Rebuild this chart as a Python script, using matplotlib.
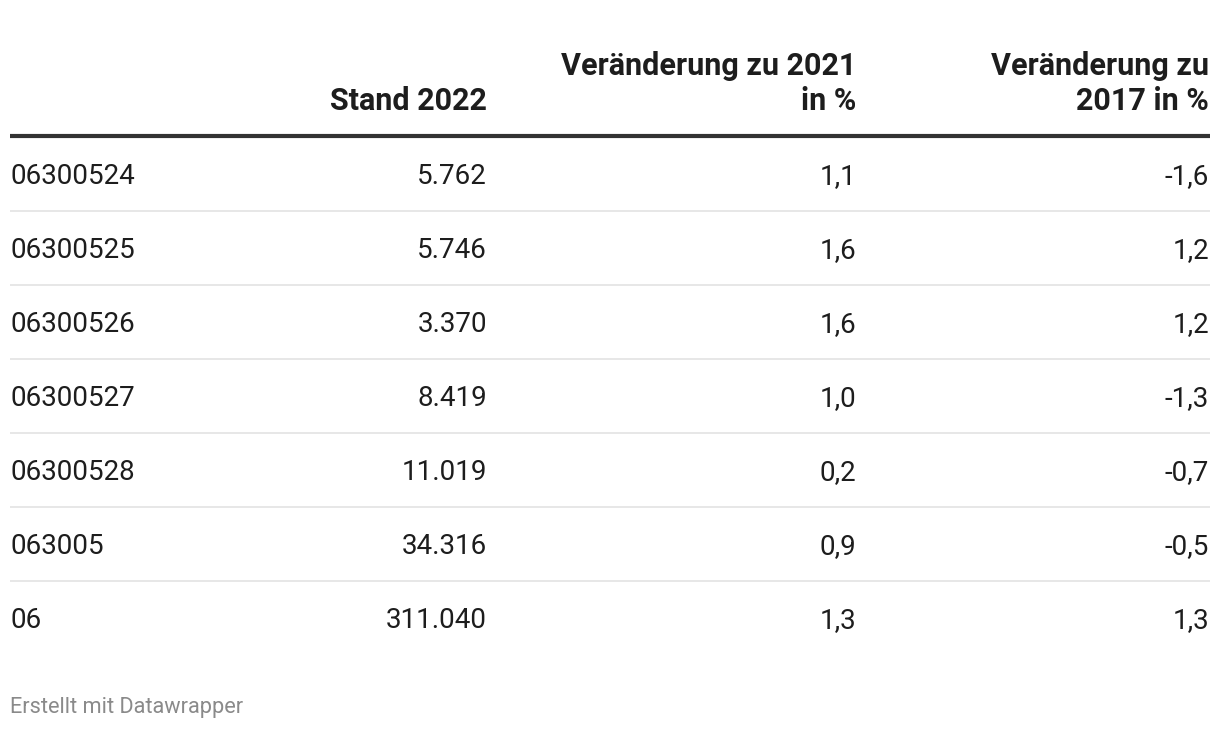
import matplotlib.pyplot as plt

plt.rcParams["font.family"] = ["Roboto", "DejaVu Sans"]

# -----------------------------
# Daten
# -----------------------------
regionen = ["06300524", "06300525", "06300526", "06300527", "06300528", "063005", "06"]
stand_2022 = ["5.762", "5.746", "3.370", "8.419", "11.019", "34.316", "311.040"]
veraenderung_2021 = ["1,1", "1,6", "1,6", "1,0", "0,2", "0,9", "1,3"]
veraenderung_2017 = ["-1,6", "1,2", "1,2", "-1,3", "-0,7", "-0,5", "1,3"]

kopfzeilen = ["", "Stand 2022", "Veränderung zu 2021\nin %", "Veränderung zu\n2017 in %"]
quelle = "Erstellt mit Datawrapper"

TEXT = "#1d1d1d"
W, H = 1220, 730


def main():
    fig = plt.figure(figsize=(W / 100, H / 100), dpi=100)
    ax = fig.add_axes([0, 0, 1, 1])
    ax.set_xlim(0, W)
    ax.set_ylim(H, 0)
    ax.axis("off")

    # Spaltenpositionen (rechtsbündig außer erste)
    col_x = [10, 487, 856, 1209]
    col_ha = ["left", "right", "right", "right"]

    # Kopfzeile, untere Zeile auf Grundlinie 110
    for x, ha, label in zip(col_x, col_ha, kopfzeilen):
        lines = label.split("\n")
        for i, line in enumerate(reversed(lines)):
            ax.text(x, 110 - i * 35, line, ha=ha, va="baseline",
                    fontsize=22, fontweight="bold", color=TEXT)

    ax.plot([10, 1210], [136, 136], color="#333333", lw=3, solid_capstyle="butt")

    spalten = [regionen, stand_2022, veraenderung_2021, veraenderung_2017]
    for r in range(len(regionen)):
        y = 184 + r * 74
        for x, ha, werte in zip(col_x, col_ha, spalten):
            ax.text(x, y, werte[r], ha=ha, va="baseline", fontsize=20, color=TEXT)
        if r < len(regionen) - 1:
            ax.plot([10, 1210], [211 + r * 74] * 2, color="#e5e5e5", lw=1.3,
                    solid_capstyle="butt")

    ax.text(10, 713, quelle, ha="left", va="baseline", fontsize=15.7, color="#8a8a8a")

    fig.savefig("out.png", dpi=100)
    plt.close(fig)


if __name__ == "__main__":
    main()
